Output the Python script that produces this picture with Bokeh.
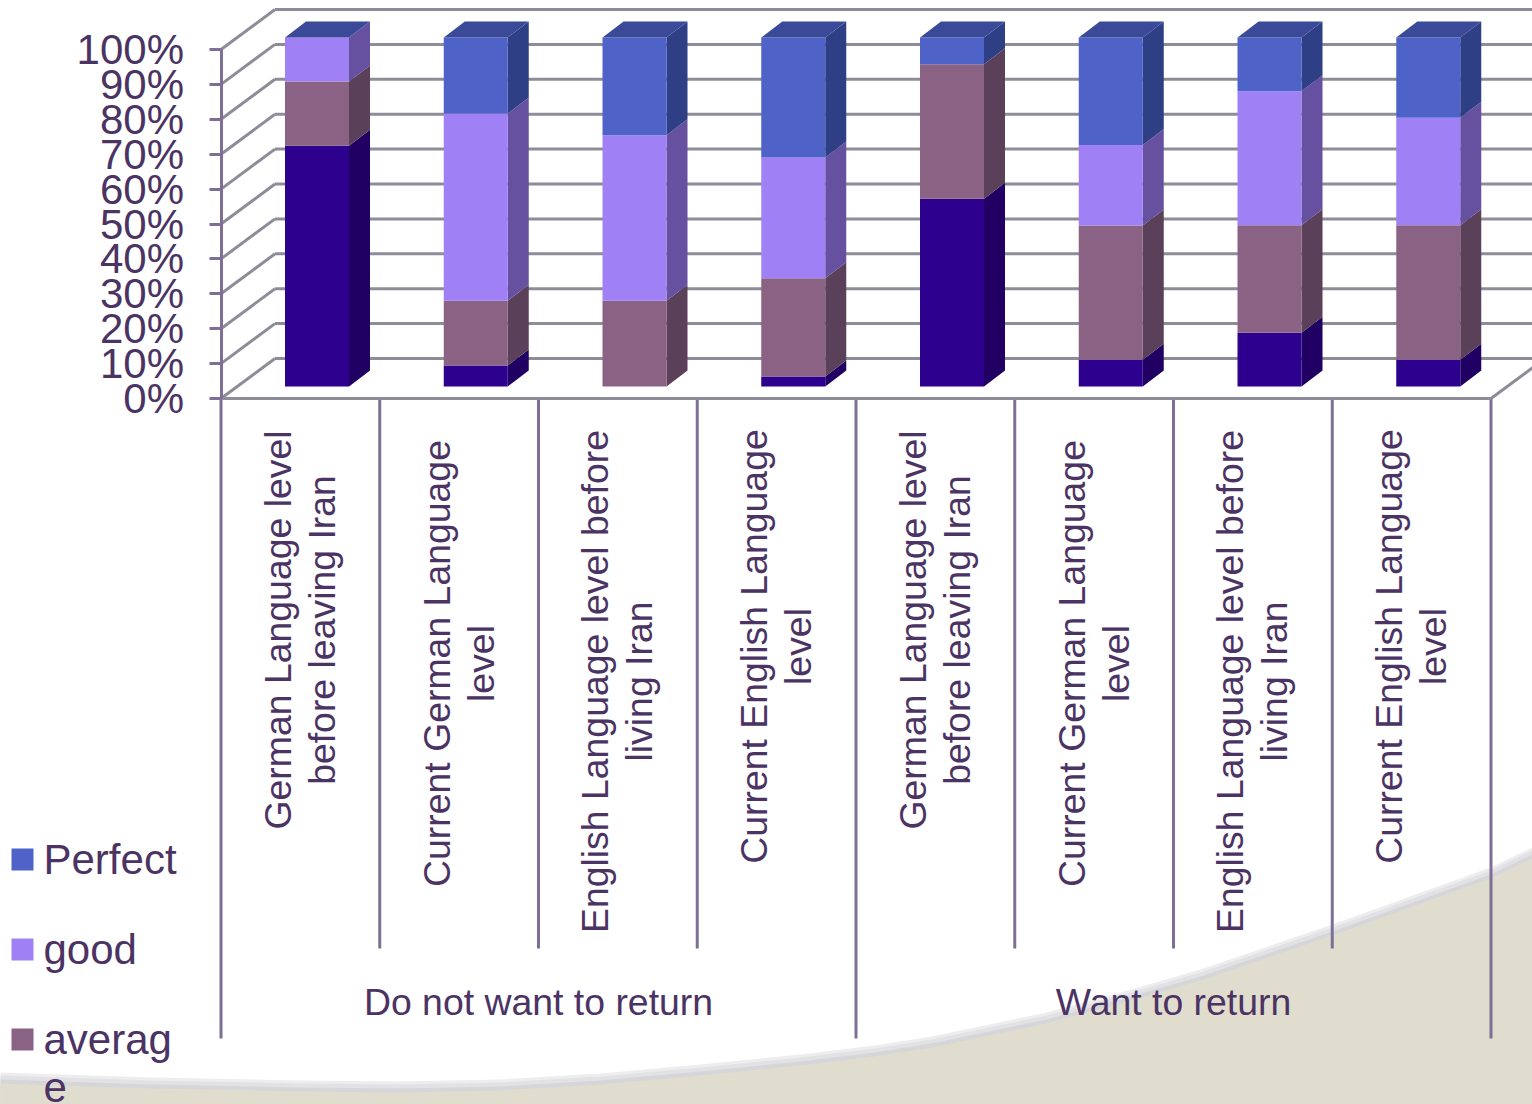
from bokeh.plotting import figure
from bokeh.models import Range1d, FixedTicker, PrintfTickFormatter, ColumnDataSource
from bokeh.core.properties import value
from bokeh.embed import file_html
from bokeh.resources import INLINE

# ---------- data ----------
categories = [
    "German Language level\nbefore leaving Iran",
    "Current German Language\nlevel",
    "English Language level before\nliving Iran",
    "Current English Language\nlevel",
    "German Language level\nbefore leaving Iran",
    "Current German Language\nlevel",
    "English Language level before\nliving Iran",
    "Current English Language\nlevel",
]
groups = ["Do not want to return", "Want to return"]
weak = [69.0, 6.0, 0.0, 2.9, 53.8, 7.7, 15.4, 7.7]
average = [18.4, 18.6, 24.6, 28.1, 38.5, 38.4, 30.8, 38.5]
good = [12.6, 53.6, 47.4, 34.6, 0.0, 23.1, 38.4, 30.8]
perfect = [0.0, 21.8, 28.0, 34.4, 7.7, 30.8, 15.4, 23.0]
y_ticks = [0, 10, 20, 30, 40, 50, 60, 70, 80, 90, 100]
legend_labels = ["Perfect", "good", "averag\ne"]

# ---------- style ----------
W, H = 1532, 1104
PX_X, PX_Y = 158.75, 3.49          # pixels per category, pixels per percent
X0_IMG, Y0_IMG = 220.5, 398.0      # where category 0 / 0 % lie in the picture
TEXT = "#4B3363"
AXIS = "#7F6F96"
GRID = "#8E8C98"
FONT = value("Liberation Sans")
FRONT = ["#2E008E", "#8A6384", "#A080F5", "#4F62C8"]
SIDE = ["#200062", "#5A4058", "#6650A0", "#2F3F85"]
TOP = "#3A4A98"
BEIGE = "#E0DDCF"


def ix(px):
    return (px - X0_IMG) / PX_X


def iy(px):
    return (Y0_IMG - px) / PX_Y


p = figure(width=W, height=H, output_backend="svg", toolbar_location=None,
           x_range=Range1d(ix(0), ix(W)), y_range=Range1d(iy(H), iy(0)),
           min_border=0, outline_line_color=None, background_fill_color="white",
           border_fill_color="white")
p.grid.visible = False

# ---------- decorative swoosh ----------
sw_x = [0, 150, 300, 400, 500, 600, 700, 800, 874, 931, 1046, 1120, 1200, 1332, 1490, 1532]
sw_y = [1083, 1088, 1091, 1092, 1090, 1084, 1075, 1065, 1056, 1047, 1023, 1003, 980, 935, 878, 858]
for off, col, al in [(11, "#EDEDEF", 1.0), (8, "#E2E2E5", 1.0), (4, "#D6D6DA", 1.0)]:
    p.patch([ix(v) for v in sw_x] + [ix(1540), ix(-10)],
            [iy(v - off) for v in sw_y] + [iy(1110), iy(1110)],
            fill_color=col, fill_alpha=al, line_color=None)
p.patch([ix(v) for v in sw_x] + [ix(1540), ix(-10)],
        [iy(v) for v in sw_y] + [iy(1110), iy(1110)],
        fill_color=BEIGE, line_color=None)

# ---------- 3-D walls ----------
DEPTH_X, DEPTH_Y = 54 / PX_X, 40 / PX_Y
n = len(categories)
p.segment(x0=[0] * len(y_ticks), y0=y_ticks,
          x1=[DEPTH_X] * len(y_ticks), y1=[t + DEPTH_Y for t in y_ticks],
          line_color=GRID, line_width=3)
p.segment(x0=[DEPTH_X] * len(y_ticks), y0=[t + DEPTH_Y for t in y_ticks],
          x1=[n + DEPTH_X] * len(y_ticks), y1=[t + DEPTH_Y for t in y_ticks],
          line_color=GRID, line_width=3)
p.segment(x0=[n], y0=[0], x1=[n + DEPTH_X], y1=[DEPTH_Y], line_color=GRID, line_width=3)

# ---------- stacked 3-D bars ----------
BAR_OFF, BAR_W = 64 / PX_X, 64 / PX_X
BASE = 12 / PX_Y
SX, SY = 21 / PX_X, 16 / PX_Y
series = [weak, average, good, perfect]
for i in range(n):
    left = i + BAR_OFF
    right = left + BAR_W
    bottom = BASE
    for s, vals in enumerate(series):
        v = vals[i]
        if v <= 0:
            continue
        top = bottom + v
        p.patch([right, right + SX, right + SX, right],
                [bottom, bottom + SY, top + SY, top],
                fill_color=SIDE[s], line_color=None)
        p.quad(left=left, right=right, bottom=bottom, top=top,
               fill_color=FRONT[s], line_color=None)
        bottom = top
    p.patch([left, left + SX, right + SX, right],
            [bottom, bottom + SY, bottom + SY, bottom],
            fill_color=TOP, line_color=None)

# ---------- axes fixed inside the frame ----------
ya = p.yaxis[0]
ya.fixed_location = 0
ya.bounds = (0, 100)
ya.ticker = FixedTicker(ticks=y_ticks)
ya.formatter = PrintfTickFormatter(format="%d%%")
ya.major_label_text_font = "Liberation Sans"
ya.major_label_text_font_size = "42px"
ya.major_label_text_color = TEXT
ya.major_label_standoff = 25
ya.major_tick_in = 0
ya.major_tick_out = 12
ya.minor_tick_in = ya.minor_tick_out = 0
ya.major_tick_line_color = AXIS
ya.major_tick_line_width = 3
ya.axis_line_color = AXIS
ya.axis_line_width = 3

xa = p.xaxis[0]
xa.fixed_location = 0
xa.bounds = (0, n)
xa.ticker = FixedTicker(ticks=list(range(n + 1)))
xa.major_label_text_font_size = "0px"
xa.major_label_overrides = {i: "" for i in range(n + 1)}
xa.major_tick_in = 0
xa.major_tick_out = 0
xa.minor_tick_in = xa.minor_tick_out = 0
xa.axis_line_color = GRID
xa.axis_line_width = 3

# category separators (short) and group separators (long)
p.segment(x0=list(range(n + 1)), x1=list(range(n + 1)), y0=[0] * (n + 1),
          y1=[iy(1038) if i % (n // 2) == 0 else iy(948) for i in range(n + 1)],
          line_color=AXIS, line_width=3)

# ---------- category labels ----------
label_center_img = [629.5, 663, 681, 646] * 2
cat_src = ColumnDataSource(dict(x=[i + 0.5 - 0.5 / PX_X for i in range(n)],
                                y=[iy(v) for v in label_center_img],
                                t=categories))
p.text(x="x", y="y", text="t", source=cat_src, angle=1.5708,
       text_align="center", text_baseline="middle", text_font=FONT,
       text_font_size="37.4px", text_color=TEXT, text_line_height=1.05)
p.text(x=[n / 4, 3 * n / 4], y=[iy(1001.5)] * 2, text=groups,
       text_align="center", text_baseline="middle", text_font=FONT,
       text_font_size="37.4px", text_color=TEXT)

# ---------- legend ----------
leg_y = [859, 949, 1039]
for lbl, yy, col in zip(legend_labels, leg_y, [FRONT[3], FRONT[2], FRONT[1]]):
    p.quad(left=ix(11), right=ix(33), top=iy(yy - 11), bottom=iy(yy + 11),
           fill_color=col, line_color=None)
    p.text(x=[ix(43)], y=[iy(yy - 24)], text=[lbl], text_align="left",
           text_baseline="top", text_font=FONT, text_font_size="42px",
           text_color=TEXT, text_line_height=1.03)

open("out.html", "w").write(file_html(p, INLINE))
